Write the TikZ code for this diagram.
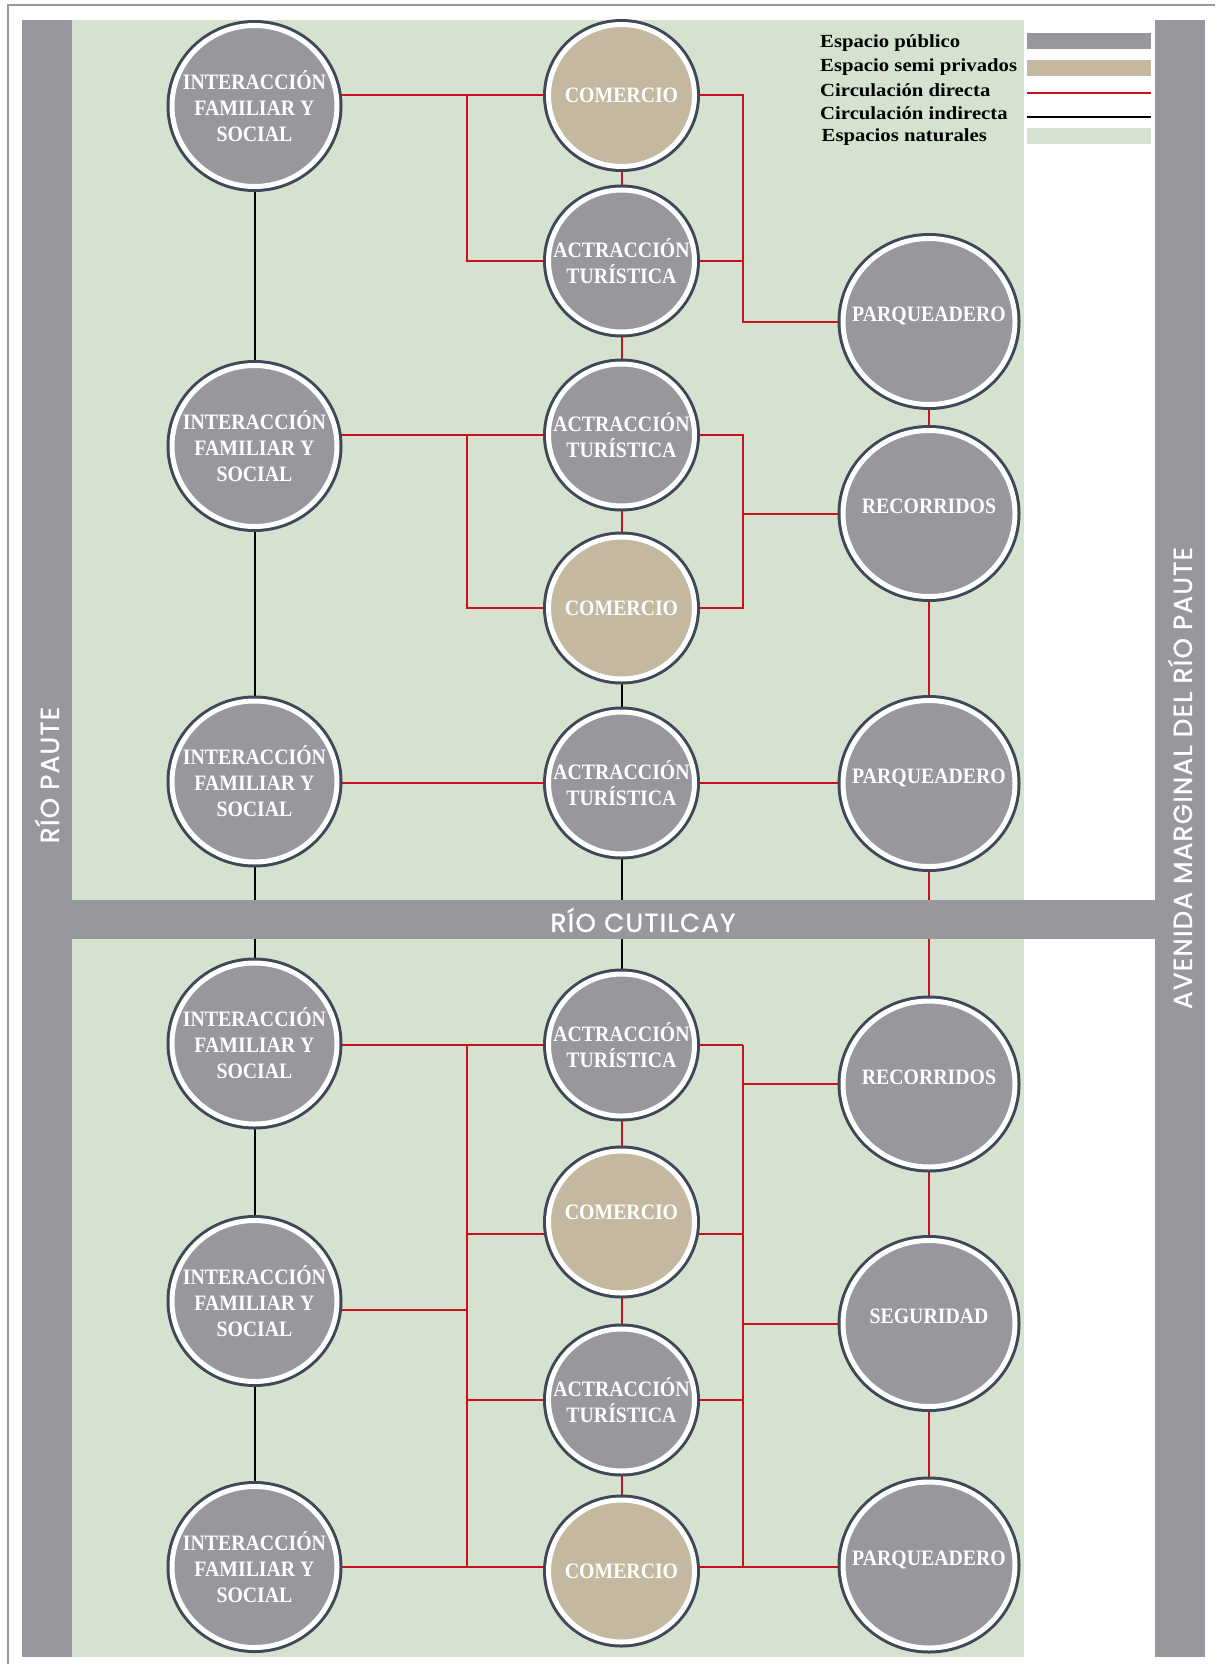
\documentclass[tikz,border=0pt]{standalone}
\usepackage{fontspec}
\setmainfont{Liberation Serif}
\newfontfamily\circfont{Liberation Serif}[FakeStretch=0.9]
\newfontfamily\keyfont{Liberation Serif}[FakeStretch=1.12]
\newfontfamily\riverfont{Poppins}[FakeBold=1.4, LetterSpace=5]
\usetikzlibrary{positioning, shapes.geometric}

\definecolor{publico}{RGB}{152,151,157}
\definecolor{semipriv}{RGB}{196,184,160}
\definecolor{natural}{RGB}{212,226,207}
\definecolor{rojo}{RGB}{200,16,30}
\definecolor{anillo}{RGB}{62,72,88}
\definecolor{marco}{RGB}{150,150,150}

\pgfdeclarelayer{back}
\pgfdeclarelayer{links}
\pgfsetlayers{back,links,main}

\begin{document}
\begin{tikzpicture}[
    x=1pt, y=-1pt,
    espacio/.style={ellipse, fill=#1, draw=white, line width=5pt, inner sep=-30pt,
                    text=white, align=center,
                    font=\circfont\bfseries\fontsize{22}{26}\selectfont,
                    preaction={draw=anillo, line width=11pt}},
    espacio/.default=publico,
    familiar/.style={espacio, minimum width=165pt, minimum height=161pt},
    central/.style={espacio=#1, minimum width=146pt, minimum height=142pt},
    central/.default=publico,
    lateral/.style={espacio, minimum width=172pt, minimum height=166pt, text depth=14pt},
    direct/.style={draw=rojo, line width=2pt},
    indirect/.style={draw=black, line width=2pt},
    swatch/.style={fill=#1, anchor=west, inner sep=0pt, minimum width=124pt, minimum height=16pt},
    key/.style={anchor=base west, inner sep=0pt, font=\keyfont\bfseries\fontsize{18.5}{22}\selectfont},
    river/.style={text=white, inner sep=0pt, font=\riverfont\fontsize{26}{30}\selectfont}
]
\useasboundingbox (0,0) rectangle (1215,1664);

% Background
\begin{pgfonlayer}{back}
\fill[white] (0,0) rectangle (1215,1664);
\draw[marco, line width=1.2pt] (8,1664) -- (8,5) -- (1215,5);
\fill[natural] (72,20) rectangle (1024,1657);
\fill[publico] (22,20) rectangle (72,1657);
\fill[publico] (1155,20) rectangle (1205,1657);
\end{pgfonlayer}

% Rivers
\fill[publico] (72,900) rectangle (1155,939);
\node[river] (cutilcay) at (643,920) {RÍO CUTILCAY};
\node[river, rotate=90] (paute) at (47,775) {RÍO PAUTE};
\node[river, rotate=90] (avenida) at (1180,778) {AVENIDA MARGINAL DEL RÍO PAUTE};

% Familiar
\node[familiar] (fam1) at (254.5,106) {INTERACCIÓN\\FAMILIAR Y\\SOCIAL};
\node[familiar] (fam2) at (254.5,446) {INTERACCIÓN\\FAMILIAR Y\\SOCIAL};
\node[familiar] (fam3) at (254.5,781.5) {INTERACCIÓN\\FAMILIAR Y\\SOCIAL};
\node[familiar] (fam4) at (254.5,1043.5) {INTERACCIÓN\\FAMILIAR Y\\SOCIAL};
\node[familiar] (fam5) at (254.5,1301) {INTERACCIÓN\\FAMILIAR Y\\SOCIAL};
\node[familiar] (fam6) at (254.5,1567) {INTERACCIÓN\\FAMILIAR Y\\SOCIAL};

% Central
\node[central=semipriv] (com1) at (621.5,95.5) {COMERCIO};
\node[central] (act1) at (621.5,261) {ACTRACCIÓN\\TURÍSTICA};
\node[central] (act2) at (621.5,435) {ACTRACCIÓN\\TURÍSTICA};
\node[central=semipriv] (com2) at (621.5,608) {COMERCIO};
\node[central] (act3) at (621.5,783) {ACTRACCIÓN\\TURÍSTICA};
\node[central] (act4) at (621.5,1045) {ACTRACCIÓN\\TURÍSTICA};
\node[central=semipriv, text depth=20pt] (com3) at (621.5,1222) {COMERCIO};
\node[central] (act5) at (621.5,1400) {ACTRACCIÓN\\TURÍSTICA};
\node[central=semipriv] (com4) at (621.5,1571) {COMERCIO};

% Lateral
\node[lateral] (parq1) at (929,321.5) {PARQUEADERO};
\node[lateral] (rec1) at (929,513.5) {RECORRIDOS};
\node[lateral] (parq2) at (929,783.5) {PARQUEADERO};
\node[lateral] (rec2) at (929,1084) {RECORRIDOS};
\node[lateral] (seg) at (929,1323.5) {SEGURIDAD};
\node[lateral] (parq3) at (929,1565) {PARQUEADERO};

% Buses
\coordinate (busl) at (466.7,0);
\coordinate (busr) at (742.7,0);

% Links
\begin{pgfonlayer}{links}
\draw[direct] (com1 -| fam1) -- (com1) -- (com1 -| busr) |- (parq1);
\draw[direct] (com1 -| busl) |- (act1) -- (act1 -| busr);
\draw[direct] (com1) -- (act1) -- (act2) -- (com2);
\draw[direct] (act2 -| fam2) -- (act2) -- (act2 -| busr) |- (com2);
\draw[direct] (act2 -| busl) |- (com2);
\draw[direct] (rec1 -| busr) -- (rec1);
\draw[direct] (parq1) -- (rec1) -- (parq2) -- (rec2) -- (seg) -- (parq3);
\draw[direct] (act3 -| fam3) -- (act3 -| parq2);
\draw[direct] (act4 -| fam4) -- (act4 -| busr);
\draw[direct] (act4 -| busl) -- (fam6 -| busl);
\draw[direct] (act4 -| busr) -- (fam6 -| busr);
\draw[direct] (fam6) -- (fam6 -| parq3);
\draw[direct] ([yshift=-9pt]fam5.center) -- ([yshift=-9pt]fam5.center -| busl);
\draw[direct] ([yshift=-12pt]com3.center -| busl) -- ([yshift=-12pt]com3.center -| busr);
\draw[direct] (act5 -| busl) -- (act5 -| busr);
\draw[direct] (rec2 -| busr) -- (rec2);
\draw[direct] (seg -| busr) -- (seg);
\draw[direct] (act4) -- (com3) -- (act5) -- (com4);
\draw[indirect] (fam1) -- (fam2) -- (fam3) -- (fam4) -- (fam5) -- (fam6);
\draw[indirect] (com2) -- (act3) -- (act4);
\end{pgfonlayer}

% Legend
\node[key] (kpub) at (820,47.3) {Espacio público};
\node[key] (ksemi) at (820,71.7) {Espacio semi privados};
\node[key] (kdir) at (820,96.5) {Circulación directa};
\node[key] (kind) at (820,120) {Circulación indirecta};
\node[key] (knat) at (821.5,141.7) {Espacios naturales};
\node[swatch=publico] (spub) at (1027,41) {};
\node[swatch=semipriv] (ssemi) at (1027,68) {};
\node[swatch=rojo, minimum height=2.2pt] (sdir) at (1027,93) {};
\node[swatch=black, minimum height=2.6pt] (sind) at (1027,117) {};
\node[swatch=natural] (snat) at (1027,136.5) {};

\end{tikzpicture}
\end{document}
